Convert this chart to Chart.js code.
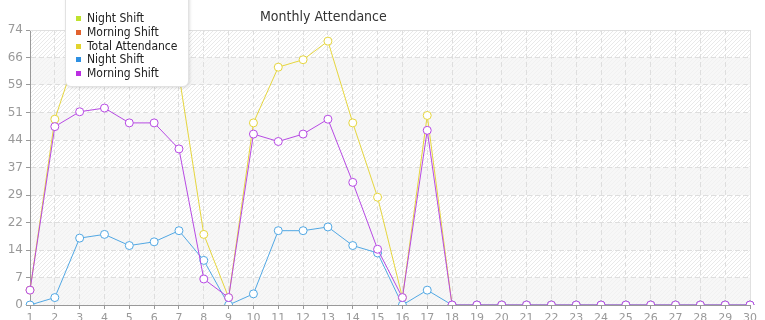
<!DOCTYPE html>
<html>
<head>
<meta charset="utf-8">
<script src="https://cdn.jsdelivr.net/npm/chart.js@4/dist/chart.umd.min.js"></script>
<style>
  html, body { margin: 0; padding: 0; background: #fff; }
  #wrap { position: relative; width: 765px; height: 320px; overflow: hidden; font-family: "DejaVu Sans Condensed", "DejaVu Sans", sans-serif; }
  #chart { position: absolute; left: 0; top: 0; }
  #title { position: absolute; left: 260px; top: 8px; font-size: 14px; color: #333; white-space: nowrap; }
  #legend { position: absolute; left: 65px; top: -6px; width: 122px; height: 91px; background: #fff;
            border: 1px solid #e2e2e2; border-radius: 0 0 6px 6px; box-shadow: 1px 1px 3px rgba(0,0,0,0.12); }
  .leg-item { position: absolute; left: 0; height: 14px; line-height: 14px; font-size: 12px; color: #222; white-space: nowrap; }
  .leg-item i { position: absolute; left: 10px; top: 5px; width: 5px; height: 5px; }
  .leg-item span { position: absolute; left: 21px; top: 0; }
</style>
</head>
<body>
<div id="wrap">
  <canvas id="chart" width="765" height="320"></canvas>
  <div id="title">Monthly Attendance</div>
  <div id="legend"></div>
</div>
<script>
const days = ['1','2','3','4','5','6','7','8','9','10','11','12','13','14','15',
              '16','17','18','19','20','21','22','23','24','25','26','27','28','29','30'];

const nightShift = [0, 2, 18, 19, 16, 17, 20, 12, 0, 3, 20, 20, 21, 16, 14,
                    0, 4, 0, 0, 0, 0, 0, 0, 0, 0, 0, 0, 0, 0, 0];
const morningShift = [4, 48, 52, 53, 49, 49, 42, 7, 2, 46, 44, 46, 50, 33, 15,
                      2, 47, 0, 0, 0, 0, 0, 0, 0, 0, 0, 0, 0, 0, 0];
const totalAttendance = [4, 50, 70, 72, 65, 66, 62, 19, 2, 49, 64, 66, 71, 49, 29,
                         2, 51, 0, 0, 0, 0, 0, 0, 0, 0, 0, 0, 0, 0, 0];

const series_names = ['Night Shift', 'Morning Shift', 'Total Attendance', 'Night Shift', 'Morning Shift'];
const legend_colors = ['#bfe22e', '#e2622e', '#e2d42e', '#2e90e2', '#bb2ee2'];
const line_colors = ['#bfe22e', '#e2622e', '#e6d63e', '#52a8e4', '#b74ae4'];

Chart.defaults.font.family = '"DejaVu Sans", sans-serif';

function make_dataset(i, data, order) {
    return {
        label: series_names[i],
        data: data,
        borderColor: line_colors[i],
        backgroundColor: line_colors[i],
        borderWidth: 1,
        pointRadius: 4,
        pointBorderWidth: 1,
        pointBackgroundColor: '#fff',
        pointBorderColor: line_colors[i],
        tension: 0,
        fill: false,
        order: order
    };
}

// hatched background with alternating grey bands
function hatch_pattern(ctx) {
    const c = document.createElement('canvas');
    c.width = 4; c.height = 4;
    const p = c.getContext('2d');
    p.fillStyle = '#ffffff';
    p.fillRect(0, 0, 4, 4);
    p.fillStyle = '#e9e9e9';
    for (let k = 0; k < 4; k++) p.fillRect(k, 3 - k, 1, 1);
    return ctx.createPattern(c, 'repeat');
}

const bands_plugin = {
    id: 'bands',
    beforeDraw(chart) {
        const ctx = chart.ctx;
        const a = chart.chartArea;
        const y = chart.scales.y;
        ctx.save();
        ctx.fillStyle = hatch_pattern(ctx);
        ctx.fillRect(a.left, a.top, a.right - a.left, a.bottom - a.top);
        const ticks = y.ticks;
        for (let i = 0; i < ticks.length - 1; i += 2) {
            const y0 = y.getPixelForValue(ticks[i].value);
            const y1 = y.getPixelForValue(ticks[i + 1].value);
            ctx.fillStyle = 'rgba(243,243,243,0.7)';
            ctx.fillRect(a.left, y1, a.right - a.left, y0 - y1);
        }
        ctx.restore();
    },
    beforeDatasetsDraw(chart) {
        const ctx = chart.ctx;
        const a = chart.chartArea;
        ctx.save();
        ctx.strokeStyle = '#e0e0e0';
        ctx.lineWidth = 1;
        ctx.beginPath();
        ctx.moveTo(a.left, a.top + 0.5); ctx.lineTo(a.right, a.top + 0.5);
        ctx.moveTo(a.right + 0.5, a.top); ctx.lineTo(a.right + 0.5, a.bottom);
        ctx.stroke();
        ctx.restore();
    }
};

const chart = new Chart(document.getElementById('chart').getContext('2d'), {
    type: 'line',
    data: {
        labels: days,
        datasets: [
            make_dataset(0, [], 5),
            make_dataset(1, [], 4),
            make_dataset(2, totalAttendance, 3),
            make_dataset(3, nightShift, 2),
            make_dataset(4, morningShift, 1)
        ]
    },
    options: {
        responsive: false,
        animation: false,
        layout: { padding: { top: 30, right: 15, left: 0, bottom: 0 } },
        plugins: {
            legend: { display: false },
            title: { display: false },
            tooltip: { enabled: false }
        },
        scales: {
            x: {
                offset: false,
                grid: { color: '#dedede', tickColor: '#999', tickLength: 4, drawTicks: true },
                border: { color: '#999', width: 1, dash: [5, 3] },
                ticks: { color: '#999', font: { size: 11 }, padding: 3, autoSkip: false, maxRotation: 0 },
                afterFit(scale) { scale.height = 15; }
            },
            y: {
                min: 0,
                max: 74,
                grid: { color: '#dedede', tickColor: '#999', tickLength: 4 },
                border: { color: '#999', width: 1, dash: [5, 3] },
                ticks: {
                    count: 11,
                    color: '#999',
                    font: { size: 12 },
                    padding: 3,
                    callback: (v) => Math.floor(v + 1e-6)
                },
                afterFit(scale) { scale.width = 30; }
            }
        }
    },
    plugins: [bands_plugin]
});

// html legend, overlapping the plot like the original
const legend = document.getElementById('legend');
const row_top = [18, 32, 46, 59, 73];
chart.data.datasets.forEach((ds, i) => {
    legend.innerHTML += `<div class="leg-item" style="top:${row_top[i] - 2}px">
        <i style="background:${legend_colors[i]}"></i><span>${ds.label}</span></div>`;
});
</script>
</body>
</html>
